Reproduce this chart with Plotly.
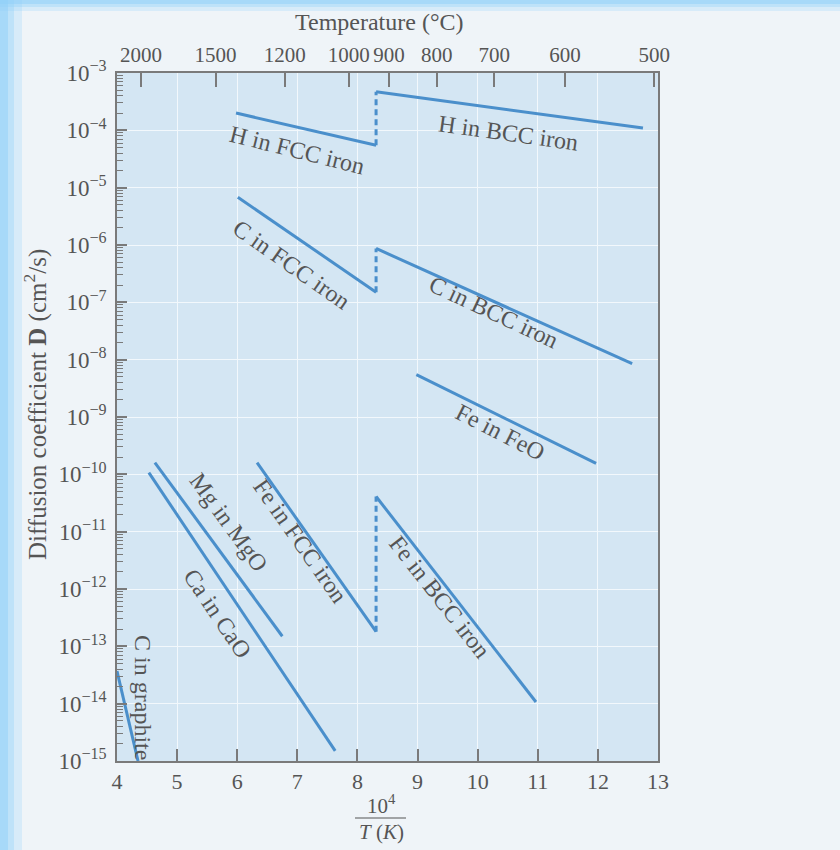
import plotly.graph_objects as go

# ---- data (x = 10^4 / T(K), D in cm^2/s) ----
h_fcc_x = [5.98, 8.31]
h_fcc_d = [2.0e-4, 5.5e-5]
h_bcc_x = [8.31, 12.75]
h_bcc_d = [4.7e-4, 1.1e-4]
c_fcc_x = [6.01, 8.31]
c_fcc_d = [6.8e-6, 1.5e-7]
c_bcc_x = [8.31, 12.57]
c_bcc_d = [8.7e-7, 8.5e-9]
fe_feo_x = [8.98, 11.97]
fe_feo_d = [5.5e-9, 1.55e-10]
fe_fcc_x = [6.33, 8.31]
fe_fcc_d = [1.6e-10, 1.8e-13]
fe_bcc_x = [8.31, 10.97]
fe_bcc_d = [4.1e-11, 1.07e-14]
mg_mgo_x = [4.63, 6.75]
mg_mgo_d = [1.6e-10, 1.5e-13]
ca_cao_x = [4.53, 7.63]
ca_cao_d = [1.07e-10, 1.5e-15]
c_graph_x = [4.0, 4.35]
c_graph_d = [3.7e-14, 1.0e-15]

# transitions FCC -> BCC (dashed)
trans_x = 8.31
h_trans_d = [5.5e-5, 4.7e-4]
c_trans_d = [1.5e-7, 8.7e-7]
fe_trans_d = [1.8e-13, 4.1e-11]

x_ticks = [4, 5, 6, 7, 8, 9, 10, 11, 12, 13]
y_exps = list(range(-15, -2))
temp_ticks_c = [2000, 1500, 1200, 1000, 900, 800, 700, 600, 500]

labels = [
    ("H in FCC iron", 6.99, -4.345, 14),
    ("H in BCC iron", 10.51, -4.05, 8),
    ("C in FCC iron", 6.91, -6.35, 35),
    ("C in BCC iron", 10.26, -7.17, 25),
    ("Fe in FeO", 10.37, -9.27, 27),
    ("Mg in MgO", 5.85, -10.84, 54),
    ("Ca in CaO", 5.68, -12.43, 56),
    ("Fe in FCC iron", 7.05, -11.16, 55),
    ("Fe in BCC iron", 9.37, -12.14, 52),
    ("C in graphite", 4.43, -13.90, 90),
]

LINE = "#4a8fcb"
TXT = "#555555"
AX = "#7a7a7a"
FONT = "Liberation Serif"

fig = go.Figure()
solid = [(h_fcc_x, h_fcc_d), (h_bcc_x, h_bcc_d), (c_fcc_x, c_fcc_d), (c_bcc_x, c_bcc_d),
         (fe_feo_x, fe_feo_d), (fe_fcc_x, fe_fcc_d), (fe_bcc_x, fe_bcc_d),
         (mg_mgo_x, mg_mgo_d), (ca_cao_x, ca_cao_d), (c_graph_x, c_graph_d)]
for xs, ds in solid:
    fig.add_trace(go.Scatter(x=xs, y=ds, mode="lines", line=dict(color=LINE, width=3),
                             showlegend=False, hoverinfo="skip"))
for ds in (h_trans_d, c_trans_d, fe_trans_d):
    fig.add_trace(go.Scatter(x=[trans_x, trans_x], y=ds, mode="lines",
                             line=dict(color=LINE, width=3, dash="6px,4px"),
                             showlegend=False, hoverinfo="skip"))

# invisible traces to activate secondary axes
fig.add_trace(go.Scatter(x=[4, 13], y=[1e-15, 1e-3], xaxis="x2", yaxis="y", mode="markers",
                         marker=dict(opacity=0), showlegend=False, hoverinfo="skip"))
fig.add_trace(go.Scatter(x=[4, 13], y=[1e-15, 1e-3], xaxis="x", yaxis="y2", mode="markers",
                         marker=dict(opacity=0), showlegend=False, hoverinfo="skip"))

for text, x, y, ang in labels:
    fig.add_annotation(x=x, y=y, xref="x", yref="y", text=text, showarrow=False,
                       textangle=ang, xanchor="center", yanchor="middle",
                       font=dict(family=FONT, size=24, color=TXT))

minor_vals = [m * 10.0 ** e for e in range(-15, -3) for m in range(2, 10)]

fig.update_layout(
    width=840, height=850,
    margin=dict(l=117, r=182, t=73, b=89),
    paper_bgcolor="#eff4f8",
    plot_bgcolor="#d4e6f3",
    font=dict(family=FONT, color=TXT, size=20),
    xaxis=dict(range=[4, 13], tickvals=x_ticks, ticktext=[str(v) for v in x_ticks],
               ticks="inside", ticklen=12, tickwidth=1.5, tickcolor=AX,
               showgrid=True, gridcolor="#f2f8fc", gridwidth=1.2, zeroline=False,
               showline=True, linecolor=AX, linewidth=1.5, mirror=True,
               tickfont=dict(size=22, color=TXT)),
    xaxis2=dict(range=[4, 13], overlaying="x", side="top", anchor="y",
                tickvals=[1e4 / (t + 273) for t in temp_ticks_c],
                ticktext=[str(t) for t in temp_ticks_c], tickangle=0,
                ticks="inside", ticklen=14, tickwidth=1.5, tickcolor=AX,
                showgrid=False, zeroline=False, showline=False,
                tickfont=dict(size=21, color=TXT), ticklabelstandoff=6),
    yaxis=dict(type="log", range=[-15, -3], tickvals=[10.0 ** e for e in y_exps],
               ticktext=["10<sup>\u2212%d</sup>" % (-e) for e in y_exps],
               ticks="inside", ticklen=10, tickwidth=1.5, tickcolor=AX,
               showgrid=True, gridcolor="#f2f8fc", gridwidth=1.2, zeroline=False,
               showline=True, linecolor=AX, linewidth=1.5, mirror=True,
               tickfont=dict(size=23, color=TXT), ticklabelstandoff=4),
    yaxis2=dict(type="log", range=[-15, -3], overlaying="y", side="left", anchor="x",
                tickvals=minor_vals, ticks="inside", ticklen=6, tickwidth=1, tickcolor=AX,
                showticklabels=False, showgrid=False, zeroline=False, showline=False),
)

# titles
fig.add_annotation(text="Temperature (\u00b0C)", xref="paper", yref="paper",
                   x=(379 - 117) / 541, y=1 + (73 - 22) / 688, showarrow=False,
                   xanchor="center", yanchor="middle",
                   font=dict(family=FONT, size=24, color=TXT))
fig.add_annotation(text="Diffusion coefficient <b>D</b> (cm<sup>2</sup>/s)",
                   xref="paper", yref="paper", x=(35 - 117) / 541, y=0.5 - (405 - 417) / 688,
                   textangle=-90, showarrow=False, xanchor="center", yanchor="middle",
                   font=dict(family=FONT, size=25, color=TXT))
fig.add_annotation(text="10<sup>4</sup>", xref="paper", yref="paper",
                   x=(381 - 117) / 541, y=-(804 - 761) / 688, showarrow=False,
                   xanchor="center", yanchor="middle",
                   font=dict(family=FONT, size=21, color=TXT))
fig.add_annotation(text="<i>T</i> (<i>K</i>)", xref="paper", yref="paper",
                   x=(381 - 117) / 541, y=-(832 - 761) / 688, showarrow=False,
                   xanchor="center", yanchor="middle",
                   font=dict(family=FONT, size=21, color=TXT))
fig.add_shape(type="line", xref="paper", yref="paper",
              x0=(355 - 117) / 541, x1=(406 - 117) / 541,
              y0=-(818 - 761) / 688, y1=-(818 - 761) / 688,
              line=dict(color=TXT, width=1.2))

# slide-like blue edge strips
for w, op in [(22, 0.25), (14, 0.35), (8, 0.5)]:
    fig.add_shape(type="rect", xref="paper", yref="paper",
                  x0=-117 / 541, x1=(w - 117) / 541, y0=-89 / 688, y1=1 + 73 / 688,
                  fillcolor="#8fd0fa", opacity=op, line_width=0, layer="below")
    fig.add_shape(type="rect", xref="paper", yref="paper",
                  x0=-117 / 541, x1=1 + 182 / 541, y0=1 + (73 - w / 2) / 688, y1=1 + 73 / 688,
                  fillcolor="#8fd0fa", opacity=op, line_width=0, layer="below")

fig.write_html("out.html", config={"displayModeBar": False},
               post_script="document.body.style.margin='0';document.body.style.padding='0';")
